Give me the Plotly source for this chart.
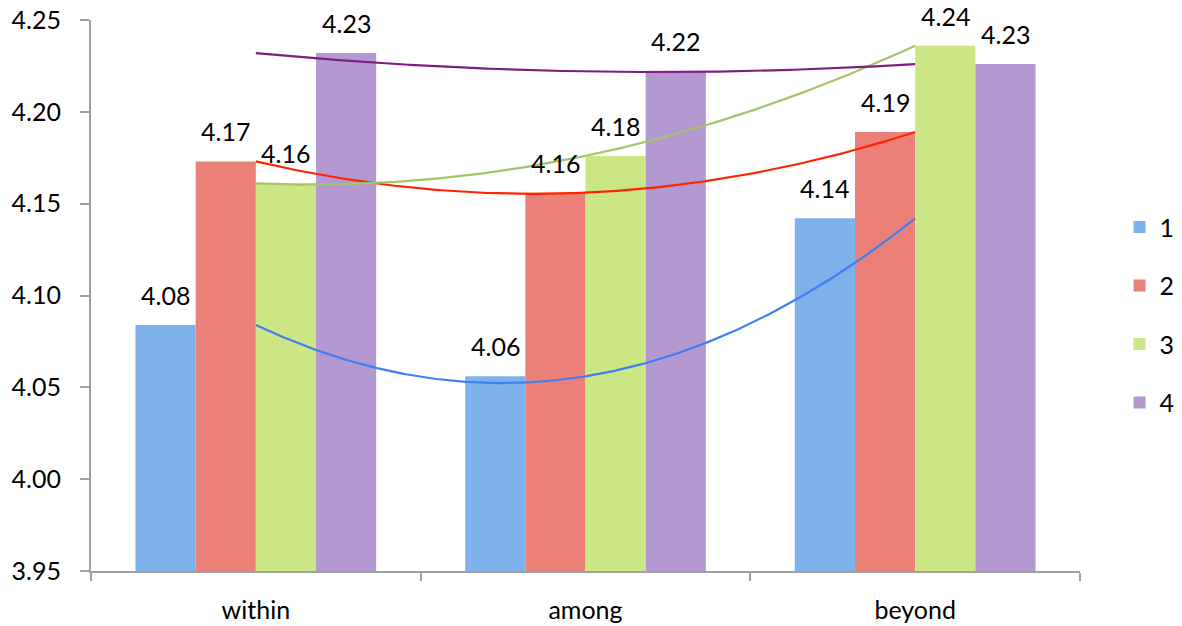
import numpy as np
import plotly.graph_objects as go

categories = ["within", "among", "beyond"]
series_names = ["1", "2", "3", "4"]
s1 = [4.084, 4.056, 4.142]
s2 = [4.173, 4.156, 4.189]
s3 = [4.161, 4.176, 4.236]
s4 = [4.232, 4.222, 4.226]
y_ticks = [3.95, 4.00, 4.05, 4.10, 4.15, 4.20, 4.25]

series_values = [s1, s2, s3, s4]
bar_colors = ["#7DB2EB", "#EB8078", "#CAE685", "#B498D2"]
trend_colors = ["#3F7FF5", "#FF2400", "#A3C46A", "#7E1E80"]

FONT = "Lato"
FS = 25
BARGAP = 0.27
n = len(series_values)
bw = (1 - BARGAP) / n

fig = go.Figure()

# bars
for i, (name, vals) in enumerate(zip(series_names, series_values)):
    fig.add_trace(go.Bar(
        x=categories, y=vals, name=name,
        marker=dict(color=bar_colors[i], line=dict(width=0)),
        legendgroup=name,
        hoverinfo="skip",
    ))

# polynomial (order 2) trendlines, computed from the data like Excel does
xi = np.arange(len(categories))
xs = np.linspace(0, len(categories) - 1, 300)
for i, vals in enumerate(series_values):
    coef = np.polyfit(xi, vals, 2)
    fig.add_trace(go.Scatter(
        x=xs, y=np.polyval(coef, xs), mode="lines",
        line=dict(color=trend_colors[i], width=2.2),
        xaxis="x2", showlegend=False, hoverinfo="skip",
    ))

# data labels
annotations = []
for i, vals in enumerate(series_values):
    off = (i - (n - 1) / 2) * bw
    for j, v in enumerate(vals):
        annotations.append(dict(
            x=j + off, y=v, xref="x2", yref="y",
            text=f"{v:.2f}", showarrow=False, borderpad=0,
            yanchor="bottom", xanchor="center", yshift=14,
            font=dict(family=FONT, size=FS, color="black"),
        ))

fig.update_layout(
    width=1182, height=626,
    margin=dict(l=91, r=102, t=20, b=55, autoexpand=False),
    paper_bgcolor="white", plot_bgcolor="white",
    barmode="group", bargap=BARGAP, bargroupgap=0,
    font=dict(family=FONT, size=FS, color="black"),
    showlegend=True,
    legend=dict(x=1.04, y=0.465, xanchor="left", yanchor="middle",
                font=dict(family=FONT, size=FS, color="black"),
                tracegroupgap=23, bgcolor="rgba(0,0,0,0)"),
    annotations=annotations,
    xaxis=dict(
        type="category", tickson="boundaries", ticks="outside", ticklen=8,
        tickcolor="#A0A0A0", tickwidth=2, showline=True, linecolor="#A0A0A0",
        linewidth=2, showgrid=False, zeroline=False,
        tickfont=dict(family=FONT, size=FS, color="black"),
        ticklabelstandoff=16, range=[-0.5, 2.5],
    ),
    xaxis2=dict(overlaying="x", range=[-0.5, 2.5], visible=False,
                showgrid=False, zeroline=False),
    yaxis=dict(
        range=[3.95, 4.25], tickvals=y_ticks,
        ticktext=[f"{t:.2f}" for t in y_ticks],
        ticks="outside", ticklen=9, tickcolor="#A0A0A0", tickwidth=2,
        showline=True, linecolor="#A0A0A0", linewidth=2,
        showgrid=False, zeroline=False, ticklabeloverflow="allow",
        tickfont=dict(family=FONT, size=FS, color="black"),
        ticklabelstandoff=14,
    ),
)

fig.write_html(
    "out.html",
    config={"displayModeBar": False},
    post_script="document.body.style.margin='0';document.body.style.overflow='hidden';",
)
